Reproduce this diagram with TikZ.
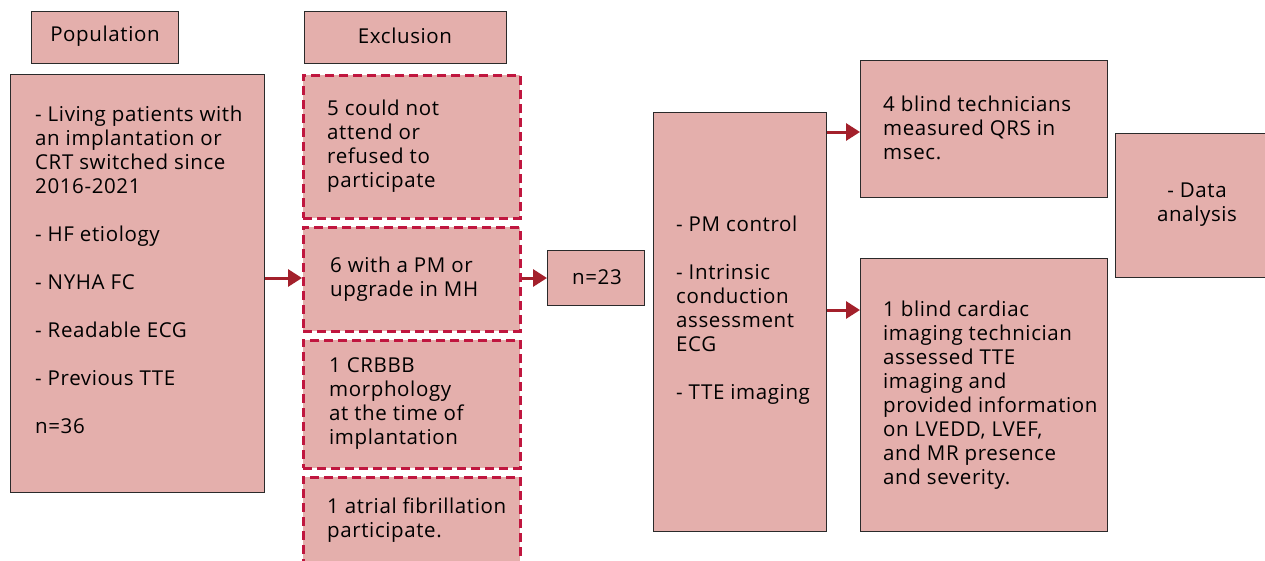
\documentclass[tikz,border=0pt]{standalone}
\usepackage{fontspec}
\setmainfont{Open Sans}[LetterSpace=3]
\usetikzlibrary{arrows.meta}
\definecolor{boxfill}{HTML}{E4AFAC}
\definecolor{dashcol}{HTML}{C0163F}
\definecolor{arrcol}{HTML}{A3202B}
\definecolor{edgecol}{HTML}{2A2A2A}
\tikzset{
  solidbox/.style={draw=edgecol, line width=1.3pt, fill=boxfill},
  dashbox/.style={draw=dashcol, line width=2.6pt, fill=boxfill, dash pattern=on 9pt off 5pt},
  txt/.style={inner sep=0pt, align=left, font=\fontsize{20.5}{24}\selectfont, text=black},
  ctxt/.style={inner sep=0pt, align=center, font=\fontsize{20.5}{24}\selectfont, text=black},
  arr/.style={draw=arrcol, line width=3pt, -{Triangle[length=14pt,width=17pt]}},
}
\begin{document}
\begin{tikzpicture}[x=1pt,y=-1pt]
\useasboundingbox (0,0) rectangle (1265,560);
\clip (0,0) rectangle (1265,560);
\fill[white] (0,0) rectangle (1265,560);
% headers
\node[solidbox, anchor=north west, minimum width=147pt, minimum height=52pt, inner sep=0pt] (popH) at (31,11) {};
\node[ctxt] (popHt) at (105,36) {Population};
\node[solidbox, anchor=north west, minimum width=202pt, minimum height=52pt, inner sep=0pt] (excH) at (304,11) {};
\node[ctxt] (excHt) at (405,36) {Exclusion};
% population box
\node[solidbox, anchor=north west, minimum width=254pt, minimum height=418pt, inner sep=0pt] (pop) at (10,74) {};
\node[txt, anchor=base west] (popt) at (35,433) {- Living patients with\\an implantation or\\CRT switched since\\2016-2021\\[24pt]- HF etiology\\[24pt]- NYHA FC\\[24pt]- Readable ECG\\[24pt]- Previous TTE\\[24pt]n=36};
% exclusion boxes
\node[dashbox, anchor=north west, minimum width=217pt, minimum height=143pt, inner sep=0pt] (ex1) at (302,74) {};
\node[txt, anchor=base west] (ex1t) at (327,187) {5 could not\\attend or\\refused to\\participate};
\node[dashbox, anchor=north west, minimum width=217pt, minimum height=104pt, inner sep=0pt] (ex2) at (302,226) {};
\node[txt, anchor=base west] (ex2t) at (330,296) {6 with a PM or\\upgrade in MH};
\node[dashbox, anchor=north west, minimum width=217pt, minimum height=128pt, inner sep=0pt] (ex3) at (302,339) {};
\node[txt, anchor=base west] (ex3t) at (329,444) {1 CRBBB\\morphology\\at the time of\\implantation};
\node[dashbox, anchor=north west, minimum width=217pt, minimum height=100pt, inner sep=0pt] (ex4) at (302,476) {};
\node[txt, anchor=base west] (ex4t) at (327,537) {1 atrial fibrillation\\participate.};
% n=23
\node[solidbox, anchor=north west, minimum width=97pt, minimum height=55pt, inner sep=0pt] (n23) at (547,250) {};
\node[ctxt] (n23t) at (597,277) {n=23};
% middle box
\node[solidbox, anchor=north west, minimum width=173pt, minimum height=419pt, inner sep=0pt] (mid) at (653,112) {};
\node[txt, anchor=base west] (midt) at (676,399) {- PM control\\[24pt]- Intrinsic\\conduction\\assessment\\ECG\\[24pt]- TTE imaging};
% QRS box
\node[solidbox, anchor=north west, minimum width=247pt, minimum height=137pt, inner sep=0pt] (qrs) at (860,60) {};
\node[txt, anchor=base west] (qrst) at (883,159) {4 blind technicians\\measured QRS in\\msec.};
% TTE box
\node[solidbox, anchor=north west, minimum width=247pt, minimum height=273pt, inner sep=0pt] (tte) at (860,258) {};
\node[txt, anchor=base west] (ttet) at (883,484) {1 blind cardiac\\imaging technician\\assessed TTE\\imaging and\\provided information\\on LVEDD, LVEF,\\and MR presence\\and severity.};
% data analysis
\node[solidbox, anchor=north west, minimum width=155pt, minimum height=144pt, inner sep=0pt] (da) at (1115,133) {};
\node[ctxt] (dat) at (1197,205) {- Data\\analysis};
% arrows
\draw[arr] (pop.east |- 0,278) -- (ex2.west |- 0,278);
\draw[arr] (ex2.east |- 0,278) -- (n23.west |- 0,278);
\draw[arr] (mid.east |- 0,132) -- (qrs.west |- 0,132);
\draw[arr] (mid.east |- 0,310) -- (tte.west |- 0,310);
\end{tikzpicture}
\end{document}
